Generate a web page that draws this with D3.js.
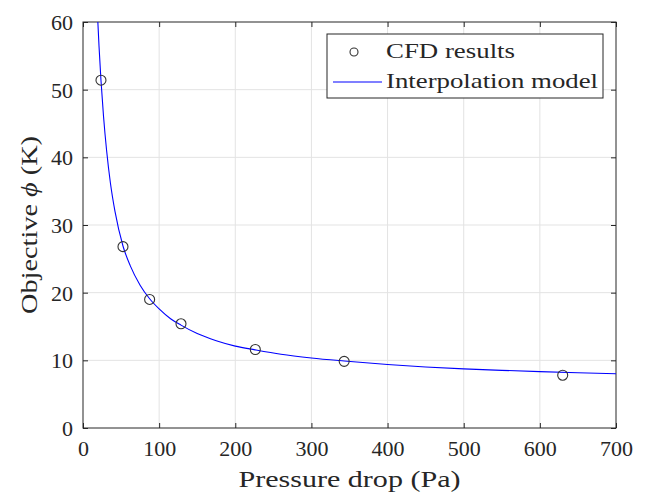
<!DOCTYPE html>
<html>
<head>
<meta charset="utf-8">
<script src="https://cdn.jsdelivr.net/npm/d3@7"></script>
<style>
  body { margin: 0; background: #fff; }
  text { font-family: "Liberation Serif", "DejaVu Serif", serif; fill: #262626; }
</style>
</head>
<body>
<div id="chart"></div>
<script>
// CFD samples (pressure drop in Pa, objective in K)
const cfdPressure = [23.6, 52.5, 87.5, 128.7, 226.3, 343, 630];
const cfdObjective = [51.4, 26.8, 19.0, 15.4, 11.6, 9.85, 7.8];

// interpolation model
const modelPressure = [19.5, 21, 23.6, 27, 31, 36, 42, 52.5, 62, 75, 87.5, 100, 115, 128.7, 150, 175, 200, 226, 260, 300, 343, 400, 450, 500, 550, 600, 650, 700];
const modelObjective = [60, 56.5, 51.4, 46, 41, 36.2, 32, 26.9, 24, 21.1, 19.1, 17.6, 16.15, 15.2, 13.95, 12.9, 12.1, 11.55, 10.9, 10.35, 9.9, 9.38, 9.02, 8.74, 8.52, 8.33, 8.16, 8.02];

const xTicks = [0, 100, 200, 300, 400, 500, 600, 700];
const yTicks = [0, 10, 20, 30, 40, 50, 60];

const width = 649;
const height = 498;
const margin = {t: 22, b: 70, l: 83, r: 33};
const axisColor = "#262626";

const svg = d3.select("#chart")
    .append("svg")
    .attr("width", width)
    .attr("height", height)
    .attr("viewBox", [0, 0, width, height]);

const xScale = d3.scaleLinear()
    .domain([0, 700])
    .range([margin.l, width - margin.r]);
const yScale = d3.scaleLinear()
    .domain([0, 60])
    .range([height - margin.b, margin.t]);

// grid
svg.append("g")
    .selectAll("line")
    .data(xTicks.slice(1, -1))
    .join("line")
    .attr("x1", d => xScale(d)).attr("x2", d => xScale(d))
    .attr("y1", yScale(0)).attr("y2", yScale(60))
    .style("stroke", "#e3e3e3")
    .style("stroke-width", "1px");
svg.append("g")
    .selectAll("line")
    .data(yTicks.slice(1, -1))
    .join("line")
    .attr("x1", xScale(0)).attr("x2", xScale(700))
    .attr("y1", d => yScale(d)).attr("y2", d => yScale(d))
    .style("stroke", "#e3e3e3")
    .style("stroke-width", "1px");

// axes with inward ticks, mirrored on top/right
const tickLen = 5;
const xAxis = d3.axisBottom(xScale).tickValues(xTicks).tickSizeInner(-tickLen).tickSizeOuter(0).tickPadding(12);
const yAxis = d3.axisLeft(yScale).tickValues(yTicks).tickSizeInner(-tickLen).tickSizeOuter(0).tickPadding(10);

const gx = svg.append("g")
    .attr("transform", `translate(0, ${yScale(0)})`)
    .call(xAxis);
const gy = svg.append("g")
    .attr("transform", `translate(${xScale(0)}, 0)`)
    .call(yAxis);
svg.append("g")
    .attr("transform", `translate(0, ${yScale(60)})`)
    .call(d3.axisTop(xScale).tickValues(xTicks).tickSizeInner(-tickLen).tickSizeOuter(0).tickFormat(""));
svg.append("g")
    .attr("transform", `translate(${xScale(700)}, 0)`)
    .call(d3.axisRight(yScale).tickValues(yTicks).tickSizeInner(-tickLen).tickSizeOuter(0).tickFormat(""));

svg.selectAll(".domain").remove();
svg.selectAll("g").attr("font-family", null);
svg.selectAll(".tick line").style("stroke", axisColor).style("stroke-width", "1px");
gx.selectAll("text").attr("font-size", "22px").attr("dy", "0.71em").style("fill", axisColor);
gy.selectAll("text").attr("font-size", "22px").attr("dy", "0.34em").style("fill", axisColor);

// box
svg.append("rect")
    .attr("x", xScale(0))
    .attr("y", yScale(60))
    .attr("width", xScale(700) - xScale(0))
    .attr("height", yScale(0) - yScale(60))
    .style("fill", "none")
    .style("stroke", axisColor)
    .style("stroke-width", "1px");

// clip for the model line
svg.append("clipPath").attr("id", "plotClip")
    .append("rect")
    .attr("x", xScale(0)).attr("y", yScale(60))
    .attr("width", xScale(700) - xScale(0))
    .attr("height", yScale(0) - yScale(60));

const modelData = modelPressure.map((p, i) => ({p: p, v: modelObjective[i]}));
const line = d3.line()
    .x(d => xScale(d.p))
    .y(d => yScale(d.v))
    .curve(d3.curveMonotoneX);
svg.append("path")
    .datum(modelData)
    .attr("clip-path", "url(#plotClip)")
    .attr("d", line)
    .style("fill", "none")
    .style("stroke", "#0000ff")
    .style("stroke-width", "1.1px");

const cfdData = cfdPressure.map((p, i) => ({p: p, v: cfdObjective[i]}));
svg.selectAll("circle.cfd")
    .data(cfdData)
    .join("circle")
    .attr("class", "cfd")
    .attr("cx", d => xScale(d.p))
    .attr("cy", d => yScale(d.v))
    .attr("r", 5)
    .style("fill", "none")
    .style("stroke", "#333")
    .style("stroke-width", "1.1px");

// axis labels
svg.append("text")
    .attr("x", (xScale(0) + xScale(700)) / 2)
    .attr("y", 487)
    .attr("text-anchor", "middle")
    .attr("font-size", "23px")
    .attr("textLength", 222)
    .attr("lengthAdjust", "spacingAndGlyphs")
    .text("Pressure drop (Pa)");

const yLabel = svg.append("text")
    .attr("transform", `translate(37, ${(yScale(0) + yScale(60)) / 2}) rotate(-90)`)
    .attr("text-anchor", "middle")
    .attr("font-size", "23px")
    .attr("textLength", 178)
    .attr("lengthAdjust", "spacingAndGlyphs");
yLabel.append("tspan").text("Objective ");
yLabel.append("tspan").attr("font-style", "italic").text("ϕ");
yLabel.append("tspan").text(" (K)");

// legend
const legend = svg.append("g").attr("class", "legend");
legend.append("rect")
    .attr("x", 327).attr("y", 34)
    .attr("width", 276).attr("height", 64)
    .style("fill", "#fff")
    .style("stroke", axisColor)
    .style("stroke-width", "1px");
legend.append("circle")
    .attr("cx", 354).attr("cy", 52).attr("r", 4)
    .style("fill", "none").style("stroke", "#333").style("stroke-width", "1.1px");
legend.append("line")
    .attr("x1", 333).attr("x2", 382).attr("y1", 82).attr("y2", 82)
    .style("stroke", "#0000ff").style("stroke-width", "1.1px");
legend.append("text")
    .attr("x", 386).attr("y", 58)
    .attr("font-size", "22px")
    .attr("textLength", 129)
    .attr("lengthAdjust", "spacingAndGlyphs")
    .text("CFD results");
legend.append("text")
    .attr("x", 386).attr("y", 87.5)
    .attr("font-size", "22px")
    .attr("textLength", 212)
    .attr("lengthAdjust", "spacingAndGlyphs")
    .text("Interpolation model");
</script>
</body>
</html>
